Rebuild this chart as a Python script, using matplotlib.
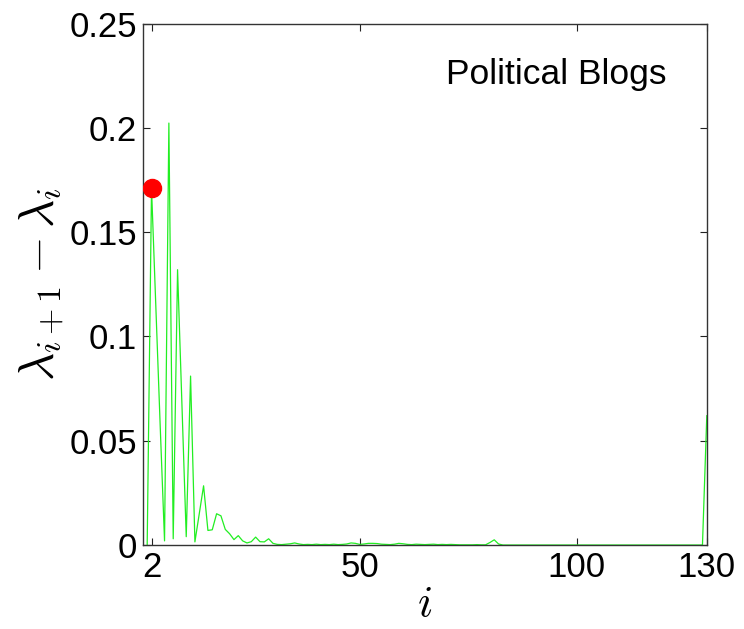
import numpy as np
import matplotlib
matplotlib.use("Agg")
import matplotlib.pyplot as plt

plt.rcParams['font.family'] = ['Liberation Sans', 'DejaVu Sans']
plt.rcParams['mathtext.fontset'] = 'cm'

# Eigengap sequence lambda_{i+1} - lambda_i for i = 1..130
gap_head = [0.0, 0.171, 0.114, 0.057, 0.002, 0.2023, 0.003, 0.132, 0.068, 0.004,
            0.081, 0.0015, 0.015, 0.0284, 0.007, 0.0073, 0.015, 0.014, 0.0075, 0.0054,
            0.0026, 0.0045, 0.002, 0.001, 0.0016, 0.0038, 0.0016, 0.0015, 0.003, 0.0008]
gap_mid = [0.0003, 0.0002, 0.0004, 0.0006, 0.001, 0.0005, 0.0002, 0.0003, 0.0002, 0.0004,
           0.0002, 0.0003, 0.0002, 0.0004, 0.0002, 0.0003, 0.0005, 0.001, 0.0008, 0.0003,
           0.0005, 0.0008, 0.0008, 0.0007, 0.0004, 0.0003, 0.0002, 0.0004, 0.0008, 0.0006,
           0.0003, 0.0002, 0.0004, 0.0003, 0.0002, 0.0003, 0.0004, 0.0002, 0.0003, 0.0002,
           0.0003, 0.0002, 0.0001, 0.0001, 0.0001, 0.0001, 0.0002, 0.0001, 0.0001, 0.0012,
           0.0025, 0.0005, 0.0]
gap_tail = [0.0] * 46 + [0.062]
gaps = gap_head + gap_mid + gap_tail
idx = np.arange(1, len(gaps) + 1)

chosen_i = 2
chosen_gap = 0.171

x_ticks = [2, 50, 100, 130]
y_ticks = [0, 0.05, 0.1, 0.15, 0.2, 0.25]
y_tick_labels = ['0', '0.05', '0.1', '0.15', '0.2', '0.25']

fig = plt.figure(figsize=(7.44, 6.29), dpi=100)
ax = fig.add_axes([0.192, 0.1335, 0.758, 0.829])

ax.plot(idx, gaps, color='#22ee22', lw=0.9)
ax.plot([chosen_i], [chosen_gap], 'o', color='#ff0000', markersize=13, zorder=5)

ax.set_xlim(0, 130)
ax.set_ylim(0, 0.25)
ax.set_xticks(x_ticks)
ax.set_yticks(y_ticks)
ax.set_yticklabels(y_tick_labels)
ax.tick_params(direction='in', length=5, width=0.8, top=True, right=True,
               labelsize=25, colors='#222222', labelcolor='black', pad=4)
for s in ax.spines.values():
    s.set_color('#333333')
    s.set_linewidth(1.0)

ax.set_xlabel(r'$i$', fontsize=32, labelpad=0)
ax.set_ylabel(r'$\lambda_{i+1}-\lambda_i$', fontsize=35, labelpad=3)

ax.text(0.929, 0.902, 'Political Blogs', transform=ax.transAxes,
        ha='right', va='center', fontsize=25.5)

fig.savefig('out.png', dpi=100)
